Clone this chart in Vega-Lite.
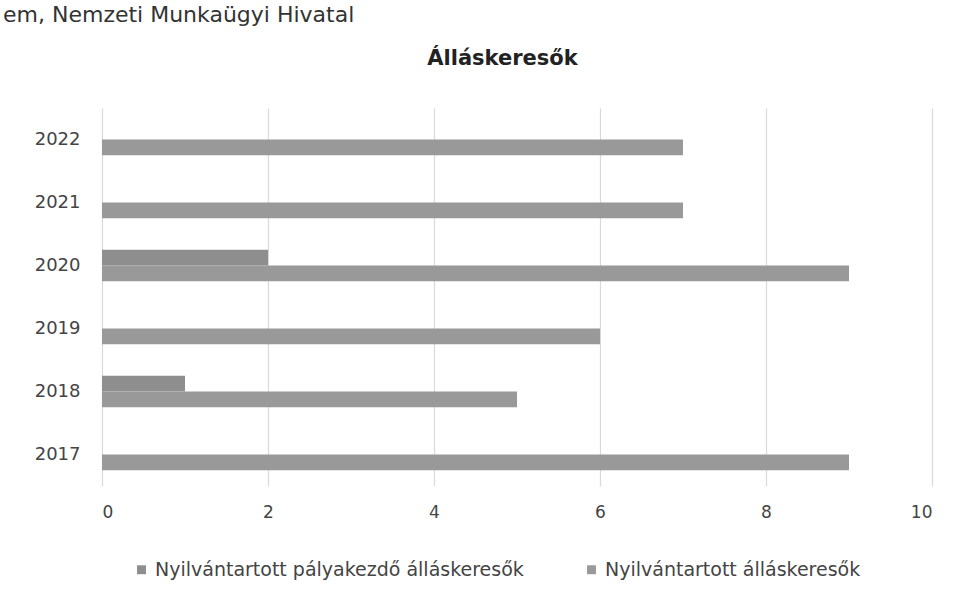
{
  "$schema": "https://vega.github.io/schema/vega-lite/v6.json",
  "autosize": "none",
  "width": 830,
  "height": 378,
  "padding": {"left": 102, "top": 108, "right": 30, "bottom": 112},
  "background": "white",
  "title": {
    "text": "em, Nemzeti Munkaügyi Hivatal",
    "anchor": "start",
    "frame": "group",
    "dx": -99,
    "offset": 20,
    "font": "DejaVu Sans",
    "fontSize": 22,
    "fontWeight": "normal",
    "color": "#333333"
  },
  "data": {
    "values": [
      {"ev": "2022", "sorozat": "Nyilvántartott pályakezdő álláskeresők", "ertek": 0},
      {"ev": "2022", "sorozat": "Nyilvántartott álláskeresők", "ertek": 7},
      {"ev": "2021", "sorozat": "Nyilvántartott pályakezdő álláskeresők", "ertek": 0},
      {"ev": "2021", "sorozat": "Nyilvántartott álláskeresők", "ertek": 7},
      {"ev": "2020", "sorozat": "Nyilvántartott pályakezdő álláskeresők", "ertek": 2},
      {"ev": "2020", "sorozat": "Nyilvántartott álláskeresők", "ertek": 9},
      {"ev": "2019", "sorozat": "Nyilvántartott pályakezdő álláskeresők", "ertek": 0},
      {"ev": "2019", "sorozat": "Nyilvántartott álláskeresők", "ertek": 6},
      {"ev": "2018", "sorozat": "Nyilvántartott pályakezdő álláskeresők", "ertek": 1},
      {"ev": "2018", "sorozat": "Nyilvántartott álláskeresők", "ertek": 5},
      {"ev": "2017", "sorozat": "Nyilvántartott pályakezdő álláskeresők", "ertek": 0},
      {"ev": "2017", "sorozat": "Nyilvántartott álláskeresők", "ertek": 9}
    ]
  },
  "mark": {"type": "bar"},
  "encoding": {
    "y": {
      "field": "ev",
      "type": "nominal",
      "sort": "descending",
      "scale": {"paddingInner": 0.5, "paddingOuter": 0.25},
      "axis": {
        "title": "Álláskeresők",
        "titleAngle": 0,
        "titleX": 400,
        "titleY": -50,
        "titleAlign": "center",
        "titleBaseline": "middle",
        "titleFont": "DejaVu Sans",
        "titleFontSize": 21,
        "titleFontWeight": "bold",
        "titleColor": "#222222",
        "labelFont": "DejaVu Sans",
        "labelFontSize": 18,
        "labelColor": "#444444",
        "labelPadding": 22,
        "ticks": false,
        "domain": false,
        "grid": false
      }
    },
    "yOffset": {
      "field": "sorozat",
      "type": "nominal",
      "scale": {"domain": ["Nyilvántartott pályakezdő álláskeresők", "Nyilvántartott álláskeresők"]}
    },
    "x": {
      "field": "ertek",
      "type": "quantitative",
      "scale": {"domain": [0, 10]},
      "axis": {
        "title": null,
        "values": [0, 2, 4, 6, 8, 10],
        "labelFont": "DejaVu Sans",
        "labelFontSize": 17,
        "labelColor": "#444444",
        "labelPadding": 18,
        "ticks": false,
        "domain": false,
        "grid": true,
        "gridColor": "#d9d9d9",
        "gridWidth": 1.2
      }
    },
    "color": {
      "field": "sorozat",
      "type": "nominal",
      "scale": {
        "domain": ["Nyilvántartott pályakezdő álláskeresők", "Nyilvántartott álláskeresők"],
        "range": ["#8e8e8e", "#999999"]
      },
      "legend": {
        "title": null,
        "orient": "none",
        "legendX": 30,
        "legendY": 452,
        "direction": "horizontal",
        "columns": 2,
        "columnPadding": 58,
        "symbolType": "square",
        "symbolSize": 80,
        "symbolStrokeWidth": 0,
        "labelFont": "DejaVu Sans",
        "labelFontSize": 19,
        "labelColor": "#444444",
        "labelLimit": 500
      }
    }
  },
  "config": {
    "view": {"stroke": null}
  }
}
